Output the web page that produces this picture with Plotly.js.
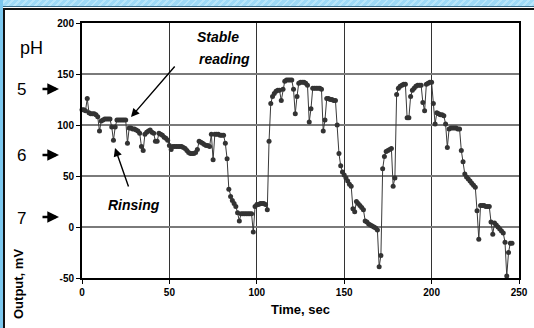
<!DOCTYPE html>
<html>
<head>
<meta charset="utf-8">
<script src="https://cdn.plot.ly/plotly-3.0.1.min.js"></script>
<style>
  html, body { margin: 0; padding: 0; width: 534px; height: 328px; overflow: hidden; background: #ffffff; }
  #wrap { position: relative; width: 534px; height: 328px; overflow: hidden; }
  #topband { position: absolute; left: 0; top: 0; width: 534px; height: 6px;
    background: repeating-linear-gradient(135deg, #9fdaf7 0px, #9fdaf7 3px, #b9e6fa 3px, #b9e6fa 5px); }
  #topline { position: absolute; left: 0; top: 6px; width: 534px; height: 1px; background: #3a6f8c; }
  #leftband { position: absolute; left: 0; top: 0; width: 3px; height: 328px; background: #7cc8ef; }
  #frame { position: absolute; left: 3px; top: 8px; width: 540px; height: 330px; border: 2px solid #111; background: #fff; box-sizing: border-box; }
  #chart { position: absolute; left: 0; top: 0; width: 534px; height: 328px; }
</style>
</head>
<body>
<div id="wrap">
  <div id="topband"></div>
  <div id="topline"></div>
  <div id="leftband"></div>
  <div id="frame"></div>
  <div id="chart"></div>
</div>
<script>
// Time, sec
const timeSec = [
  0,1,2,3,4,5,6,7,8,9,10,11,12,13,14,15,16,17,18,19,
  20,21,22,23,24,25,26,27,28,29,30,31,32,33,34,35,36,37,38,39,
  40,41,42,43,44,45,46,47,48,49,50,51,52,53,54,55,56,57,58,59,
  60,61,62,63,64,65,66,67,68,69,70,71,72,73,74,75,76,77,78,79,
  80,81,82,83,84,85,86,87,88,89,90,91,92,93,94,95,96,97,98,99,
  100,101,102,103,104,105,106,107,108,109,110,111,112,113,114,115,116,117,118,119,
  120,121,122,123,124,125,126,127,128,129,130,131,132,133,134,135,136,137,138,139,
  140,141,142,143,144,145,146,147,148,149,150,151,152,153,154,155,156,157,158,159,
  160,161,162,163,164,165,166,167,168,169,170,171,172,173,174,175,176,177,178,179,
  180,181,182,183,184,185,186,187,188,189,190,191,192,193,194,195,196,197,198,199,
  200,201,202,203,204,205,206,207,208,209,210,211,212,213,214,215,216,217,218,219,
  220,221,222,223,224,225,226,227,228,229,230,231,232,233,234,235,236,237,238,239,
  240,241,242,243,244,245,246
];
// Output, mV
const outputMv = [
  115,115,114,126,112,111,111,111,110,108,94,104,105,106,106,106,106,98,85,98,
  105,105,105,105,105,105,82,97,97,96,96,95,94,92,79,75,91,93,94,95,
  93,92,84,84,92,91,90,88,87,85,80,76,79,79,79,79,79,79,78,77,
  75,73,72,72,72,73,76,84,83,82,81,80,80,79,91,66,91,91,91,90,
  90,90,82,67,37,30,26,23,20,14,6,13,13,13,13,13,13,13,-5,20,
  22,22,23,23,23,22,17,84,121,128,131,133,134,134,124,135,143,144,144,144,
  144,135,111,128,141,142,142,142,141,139,103,116,136,136,136,136,136,135,94,105,
  126,126,125,125,124,124,100,72,60,54,51,48,45,42,40,18,15,25,23,21,
  19,17,6,5,3,2,1,0,-1,-3,-39,-28,57,69,74,75,76,77,40,48,
  130,136,138,139,140,140,107,107,128,134,136,138,139,139,139,122,114,140,141,142,
  142,121,101,112,111,110,110,109,101,78,96,97,97,97,97,96,96,75,64,52,
  49,47,45,43,41,39,16,-12,21,21,21,20,20,20,5,-7,4,2,0,-2,
  -4,-6,-15,-48,-25,-16,-16
];
const xTicks = [0, 50, 100, 150, 200, 250];
const yTicks = [-50, 0, 50, 100, 150, 200];
const phLabels = ['5', '6', '7'];

const FONT = 'Liberation Sans, Arial, sans-serif';

const trace = {
  x: timeSec, y: outputMv, type: 'scatter', mode: 'lines+markers',
  line: { color: '#3a3a3a', width: 1 },
  marker: { color: '#333333', size: 5 },
  cliponaxis: false,
  hoverinfo: 'none'
};

// helper: pixel -> paper
const L = 82, T = 23, W = 437, H = 255;
const px = v => (v - L) / W;
const py = v => (T + H - v) / H;

function label(text, cx, cy, font, extra) {
  return Object.assign({ text: text, x: px(cx), y: py(cy), xref: 'paper', yref: 'paper',
    xanchor: 'center', yanchor: 'middle', showarrow: false, font: font }, extra || {});
}
function arrow(hx, hy, ax, ay, width, size) {
  return { text: '', x: px(hx), y: py(hy), xref: 'paper', yref: 'paper', showarrow: true,
    ax: ax, ay: ay, arrowhead: 2, arrowsize: size, arrowwidth: width, arrowcolor: '#000' };
}

const bi = { family: FONT, size: 14, color: '#000', weight: 'bold', style: 'italic' };
const phY = [89, 155, 217];
const annotations = [
  label('pH', 31, 48, { family: FONT, size: 18, color: '#000' }),
  label('Output, mV', 18, 284, { family: FONT, size: 13, color: '#000', weight: 'bold' }, { textangle: -90 }),
  label('Stable', 218, 37, bi),
  label('reading', 224, 59, bi),
  label('Rinsing', 134, 205, bi),
  arrow(131, 117, 45, -52, 1.4, 1.2),
  arrow(115, 148, 14, 40, 1.4, 1.2)
];
phLabels.forEach((lab, i) => {
  annotations.push(label(lab, 21, phY[i] + 1, { family: FONT, size: 17, color: '#000' }));
  annotations.push(arrow(59, phY[i], -18, 0, 2.6, 0.9));
});

const layout = {
  width: 534, height: 328,
  margin: { l: L, r: 534 - L - W, t: T, b: 328 - T - H },
  paper_bgcolor: 'rgba(0,0,0,0)', plot_bgcolor: '#ffffff',
  showlegend: false,
  font: { family: FONT, color: '#000' },
  xaxis: {
    range: [0, 250], tickvals: xTicks, ticktext: xTicks.map(String),
    showgrid: true, gridcolor: '#333333', gridwidth: 1,
    zeroline: false, showline: true, mirror: true, linecolor: '#000', linewidth: 2,
    ticks: 'outside', ticklen: 4, tickcolor: '#000',
    tickfont: { family: FONT, size: 10, weight: 'bold', color: '#000' },
    title: { text: 'Time, sec', font: { family: FONT, size: 13, weight: 'bold', color: '#000' }, standoff: 8 }
  },
  yaxis: {
    range: [-50, 200], tickvals: yTicks, ticktext: yTicks.map(String),
    showgrid: true, gridcolor: '#7a7a7a', gridwidth: 1.5,
    zeroline: false, showline: true, mirror: true, linecolor: '#000', linewidth: 2,
    ticks: 'outside', ticklen: 4, tickcolor: '#000',
    tickfont: { family: FONT, size: 10, weight: 'bold', color: '#000' }
  },
  annotations: annotations
};

Plotly.newPlot('chart', [trace], layout, { staticPlot: true, displayModeBar: false });
</script>
</body>
</html>
